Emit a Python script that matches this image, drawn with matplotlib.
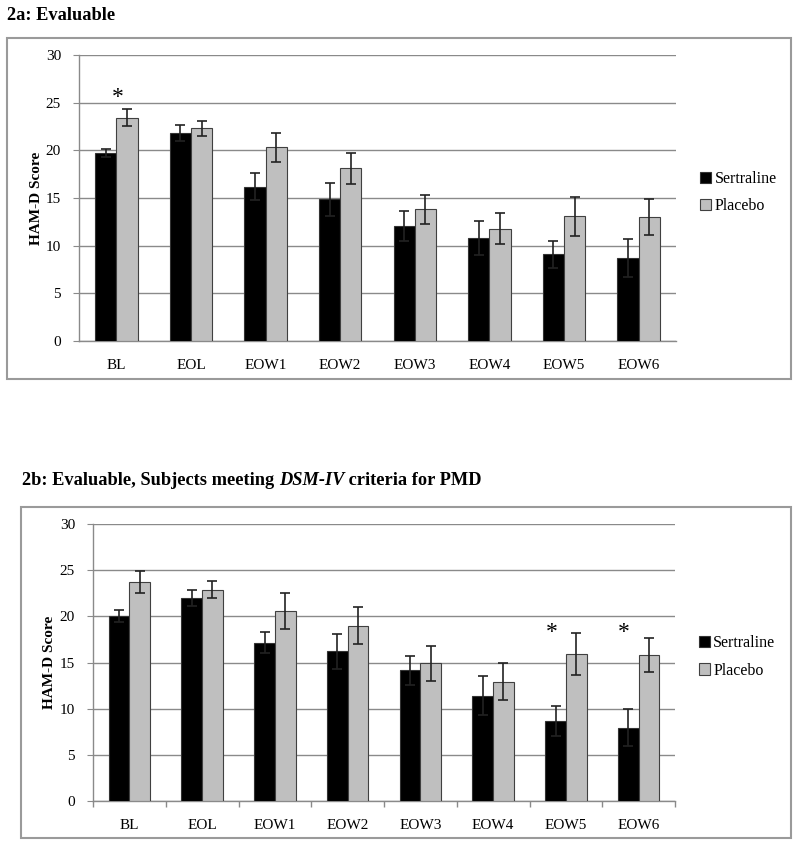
import matplotlib
matplotlib.use("Agg")
import matplotlib.pyplot as plt
import numpy as np
from matplotlib.patches import Rectangle

categories = ["BL", "EOL", "EOW1", "EOW2", "EOW3", "EOW4", "EOW5", "EOW6"]

# Panel 2a: Evaluable
a_sert = [19.7, 21.8, 16.2, 14.85, 12.05, 10.8, 9.1, 8.75]
a_sert_err = [0.45, 0.85, 1.4, 1.7, 1.55, 1.8, 1.4, 2.0]
a_plac = [23.4, 22.3, 20.3, 18.1, 13.8, 11.8, 13.1, 13.0]
a_plac_err = [0.9, 0.75, 1.5, 1.65, 1.5, 1.65, 2.05, 1.9]
a_star = ["BL"]

# Panel 2b: Evaluable, DSM-IV PMD
b_sert = [20.0, 22.0, 17.15, 16.2, 14.15, 11.4, 8.65, 7.95]
b_sert_err = [0.65, 0.9, 1.15, 1.9, 1.6, 2.1, 1.6, 2.0]
b_plac = [23.7, 22.9, 20.6, 19.0, 14.9, 12.9, 15.9, 15.85]
b_plac_err = [1.2, 0.9, 1.95, 2.0, 1.9, 2.0, 2.25, 1.85]
b_star = ["EOW5", "EOW6"]

series_names = ["Sertraline", "Placebo"]
yticks = [0, 5, 10, 15, 20, 25, 30]

plt.rcParams['font.family'] = ['Liberation Serif', 'DejaVu Serif']

W, H = 800, 846
fig = plt.figure(figsize=(W / 100, H / 100), dpi=100)

def fx(px):
    return px / W

def fy(py):
    return 1 - py / H

grid_c = "#8a8a8a"
frame_c = "#9a9a9a"

def panel(rect, sert, serr, plac, perr, stars, star_dx, star_y, xticks_marks, ylab_px):
    ax = fig.add_axes(rect)
    x = np.arange(len(categories))
    bw = 0.285
    ax.bar(x - bw / 2, sert, bw, color="black", edgecolor="#333333", linewidth=0.8,
           label=series_names[0], zorder=3)
    ax.bar(x + bw / 2, plac, bw, color="#bfbfbf", edgecolor="#404040", linewidth=0.8,
           label=series_names[1], zorder=3)
    ax.errorbar(x - bw / 2, sert, yerr=serr, fmt="none", ecolor="#222222",
                elinewidth=1.2, capsize=3.5, capthick=1.2, zorder=4)
    ax.errorbar(x + bw / 2, plac, yerr=perr, fmt="none", ecolor="#222222",
                elinewidth=1.2, capsize=3.5, capthick=1.2, zorder=4)
    ax.set_xlim(-0.5, len(categories) - 0.5)
    ax.set_ylim(0, 30)
    ax.set_yticks(yticks)
    ax.tick_params(axis="y", labelsize=11, length=4, color=grid_c, pad=9)
    ax.yaxis.grid(True, color=grid_c, linewidth=1.0, zorder=0)
    ax.set_axisbelow(True)
    for s in ["top", "right"]:
        ax.spines[s].set_visible(False)
    for s in ["left", "bottom"]:
        ax.spines[s].set_color(grid_c)
        ax.spines[s].set_linewidth(1.0)
    ax.set_xticks(x)
    ax.set_xticklabels(categories)
    ax.tick_params(axis="x", length=0, labelsize=11, pad=13)
    if xticks_marks:
        ax.set_xticks(np.arange(len(categories) + 1) - 0.5, minor=True)
        ax.tick_params(axis="x", which="minor", length=4, color=grid_c, width=1.0)
    ax.set_ylabel("HAM-D Score", fontweight="bold", fontsize=11)
    ax.yaxis.set_label_coords(-ylab_px / (rect[2] * W), 0.5)
    for c in stars:
        i = categories.index(c)
        ax.text(i + star_dx, star_y, "*", ha="center", va="center", fontsize=17)
    ax.legend(loc="center left", bbox_to_anchor=(1.03, 0.52), frameon=False,
              fontsize=11.5, handlelength=0.7, handleheight=0.7,
              handletextpad=0.2, labelspacing=0.7, borderaxespad=0)
    return ax

# frames
fig.patches.append(Rectangle((fx(7), fy(379)), fx(791) - fx(7), fy(38) - fy(379),
                             transform=fig.transFigure, fill=False,
                             edgecolor=frame_c, linewidth=1.5))
fig.patches.append(Rectangle((fx(21), fy(838)), fx(791) - fx(21), fy(507) - fy(838),
                             transform=fig.transFigure, fill=False,
                             edgecolor=frame_c, linewidth=1.5))

panel([fx(79), fy(341), fx(676) - fx(79), fy(55) - fy(341)],
      a_sert, a_sert_err, a_plac, a_plac_err, a_star, 0.02, 25.5, False, 36)
panel([fx(93), fy(801), fx(675) - fx(93), fy(524) - fy(801)],
      b_sert, b_sert_err, b_plac, b_plac_err, b_star, -0.2, 18.3, True, 37)

# titles
fig.text(fx(7), fy(15), "2a: Evaluable", fontsize=13.2, fontweight="bold",
         ha="left", va="center")

renderer = fig.canvas.get_renderer()
parts = [("2b: Evaluable, Subjects meeting ", "normal"),
         ("DSM-IV", "italic"),
         (" criteria for PMD", "normal")]
xpos = fx(22)
for txt, style in parts:
    t = fig.text(xpos, fy(480), txt, fontsize=13.2, fontweight="bold",
                 fontstyle=style, ha="left", va="center")
    bb = t.get_window_extent(renderer=renderer)
    xpos += bb.width / W

fig.savefig("out.png", dpi=100)
